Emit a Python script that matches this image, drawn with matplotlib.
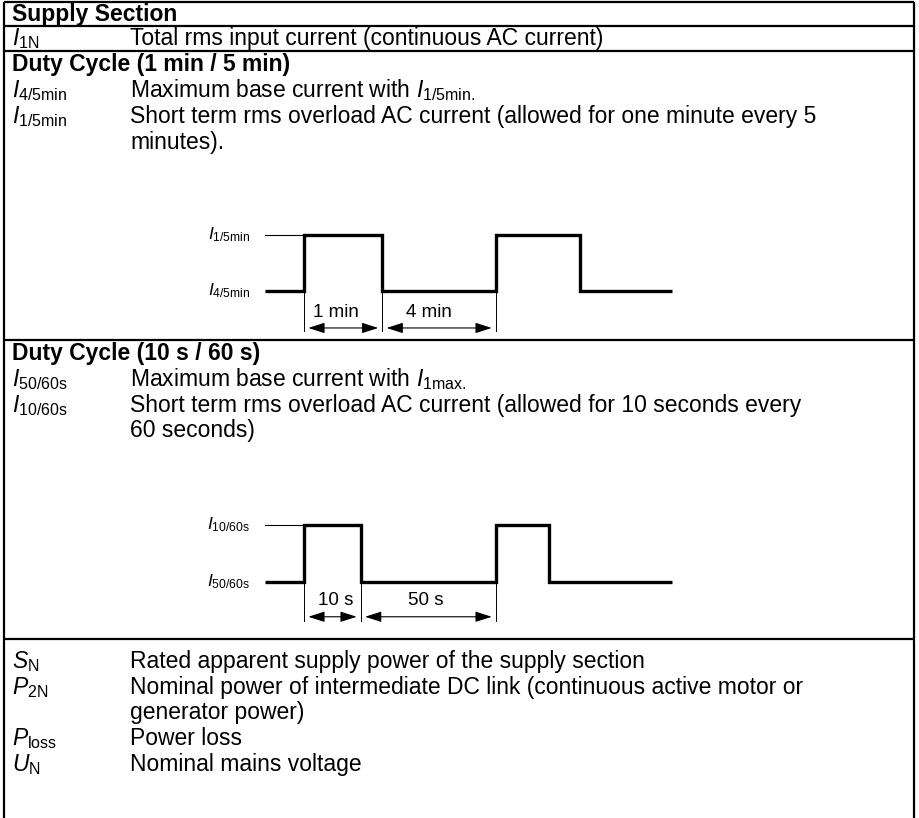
import numpy as np
import matplotlib
matplotlib.use("Agg")
import matplotlib.pyplot as plt

plt.rcParams['font.family'] = ['Liberation Sans', 'DejaVu Sans']
plt.rcParams['mathtext.fontset'] = 'custom'
plt.rcParams['mathtext.rm'] = 'Liberation Sans'
plt.rcParams['mathtext.it'] = 'Liberation Sans:italic'
plt.rcParams['mathtext.bf'] = 'Liberation Sans:bold'

# Table content
supply_title = "Supply Section"
supply_rows = [(r"$\mathit{I}_{\mathrm{1N}}$", "Total rms input current (continuous AC current)")]

duty1_title = "Duty Cycle (1 min / 5 min)"
duty1_rows = [
    (r"$\mathit{I}_{\mathrm{4/5min}}$", r"Maximum base current with $\mathit{I}_{\mathrm{1/5min.}}$"),
    (r"$\mathit{I}_{\mathrm{1/5min}}$", "Short term rms overload AC current (allowed for one minute every 5\nminutes)."),
]
duty2_title = "Duty Cycle (10 s / 60 s)"
duty2_rows = [
    (r"$\mathit{I}_{\mathrm{50/60s}}$", r"Maximum base current with $\mathit{I}_{\mathrm{1max.}}$"),
    (r"$\mathit{I}_{\mathrm{10/60s}}$", "Short term rms overload AC current (allowed for 10 seconds every\n60 seconds)"),
]
power_rows = [
    (r"$\mathit{S}_{\mathrm{N}}$", "Rated apparent supply power of the supply section"),
    (r"$\mathit{P}_{\mathrm{2N}}$", "Nominal power of intermediate DC link (continuous active motor or\ngenerator power)"),
    (r"$\mathit{P}_{\mathrm{loss}}$", "Power loss"),
    (r"$\mathit{U}_{\mathrm{N}}$", "Nominal mains voltage"),
]

# Schematic waveforms (arbitrary time units, level 0 = base, 1 = overload)
duty1_edges = [0, 1.0, 3.0, 5.9, 8.05, 10.4]
duty1_levels = [0, 1, 0, 1, 0]
duty1_high, duty1_low = r"$\mathit{I}_{\mathrm{1/5min}}$", r"$\mathit{I}_{\mathrm{4/5min}}$"
duty1_dims = ["1 min", "4 min"]

duty2_edges = [0, 1.0, 2.45, 5.9, 7.25, 10.4]
duty2_levels = [0, 1, 0, 1, 0]
duty2_high, duty2_low = r"$\mathit{I}_{\mathrm{10/60s}}$", r"$\mathit{I}_{\mathrm{50/60s}}$"
duty2_dims = ["10 s", "50 s"]

W, H = 920, 818
fig = plt.figure(figsize=(W / 100, H / 100), dpi=100)
ax = fig.add_axes([0, 0, 1, 1])
ax.set_xlim(0, W)
ax.set_ylim(H, 0)
ax.axis("off")

FS = 16.5
X0, X1, XL, XR = 12, 130, 4, 914
LINE = 25.5

# borders
ax.vlines([XL, XR], 2, H, color="k", lw=1.6)
ax.hlines([2, 26, 51, 340, 639], XL, XR, color="k", lw=1.6)


def row(y, sym, desc):
    ax.text(X0, y, sym, fontsize=FS, va="baseline")
    for i, line in enumerate(desc.split("\n")):
        ax.text(X1, y + i * LINE, line, fontsize=FS, va="baseline")


ax.text(X0, 21, supply_title, fontsize=FS, fontweight="bold", va="baseline")
row(45, *supply_rows[0])

ax.text(X0, 70.5, duty1_title, fontsize=FS, fontweight="bold", va="baseline")
row(97, *duty1_rows[0])
row(123, *duty1_rows[1])

ax.text(X0, 360, duty2_title, fontsize=FS, fontweight="bold", va="baseline")
row(386, *duty2_rows[0])
row(412, *duty2_rows[1])

ys = [668, 694, 745, 771]
for y, (s, d) in zip(ys, power_rows):
    row(y, s, d)


def waveform(top, bottom, edges, levels, hi, lo, dims, dim_y, text_y, line_y, text_x):
    a = fig.add_axes([265 / W, 1 - bottom / H, 407 / W, (bottom - top) / H])
    a.set_xlim(edges[0], edges[-1])
    a.set_ylim(0, 1)
    a.axis("off")
    a.stairs(levels, edges, baseline=None, color="k", lw=2.4, clip_on=False)
    a.plot([edges[0], edges[1]], [1, 1], color="k", lw=0.8, clip_on=False)
    a.text(-0.38, 1, hi, fontsize=12.5, ha="right", va="center")
    a.text(-0.38, 0, lo, fontsize=12.5, ha="right", va="center")
    for e in edges[1:4]:
        a.plot([e, e], [0, line_y], color="k", lw=0.7, clip_on=False)
    for (x0, x1), lab, tx in zip([(edges[1], edges[2]), (edges[2], edges[3])], dims, text_x):
        a.annotate("", xy=(x1, dim_y), xytext=(x0, dim_y),
                   arrowprops=dict(arrowstyle="<|-|>,head_length=1.0,head_width=0.32",
                                   color="k", lw=0.8, shrinkA=3, shrinkB=3,
                                   mutation_scale=10), annotation_clip=False)
        a.text(tx, text_y, lab, fontsize=13.5, ha="center", va="center")


waveform(235, 291, duty1_edges, duty1_levels, duty1_high, duty1_low, duty1_dims,
         -0.66, -0.39, -0.72, [1.8, 4.2])
waveform(525, 582, duty2_edges, duty2_levels, duty2_high, duty2_low, duty2_dims,
         -0.61, -0.33, -0.68, [1.8, 4.1])

fig.savefig("out.png", dpi=100)
